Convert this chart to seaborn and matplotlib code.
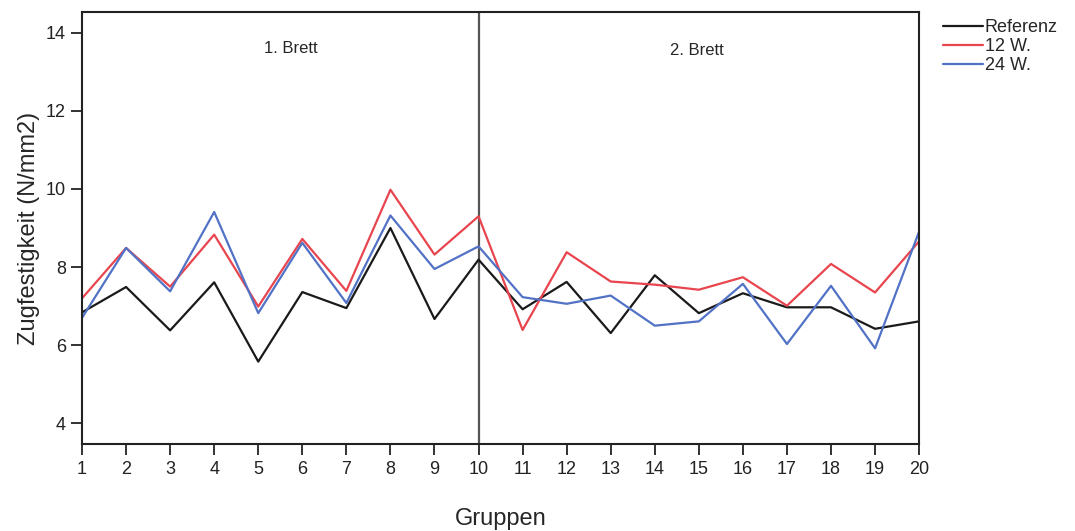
import pandas as pd
import numpy as np
import matplotlib
matplotlib.use("Agg")
import matplotlib.pyplot as plt
import seaborn as sns

# values
gruppen = list(range(1, 21))
referenz = [6.84, 7.49, 6.38, 7.61, 5.58, 7.36, 6.95, 9.00, 6.67, 8.19,
            6.92, 7.62, 6.31, 7.79, 6.82, 7.33, 6.97, 6.97, 6.42, 6.61]
w12 = [7.20, 8.49, 7.50, 8.83, 6.99, 8.72, 7.39, 9.98, 8.32, 9.30,
       6.39, 8.38, 7.63, 7.55, 7.42, 7.74, 7.01, 8.08, 7.35, 8.66]
w24 = [6.70, 8.49, 7.38, 9.41, 6.82, 8.62, 7.08, 9.32, 7.95, 8.53,
       7.23, 7.06, 7.27, 6.50, 6.61, 7.57, 6.03, 7.52, 5.92, 8.91]
series_names = ["Referenz", "12 W.", "24 W."]
PALETTE = {"Referenz": "#1a1a1a", "12 W.": "#e8454f", "24 W.": "#5272c6"}

data = pd.concat(
    [
        pd.DataFrame({"Gruppen": gruppen, "value": vals, "serie": name})
        for name, vals in zip(series_names, [referenz, w12, w24])
    ]
)

sns.set_style("white")
plt.rcParams["font.family"] = ["Liberation Sans", "DejaVu Sans"]

fig = plt.figure(figsize=(10.75, 5.31), dpi=100)
ax = fig.add_axes([0.0763, 0.1638, 0.855 - 0.0763, 0.9774 - 0.1638])

sns.lineplot(
    data=data,
    x="Gruppen",
    y="value",
    hue="serie",
    hue_order=series_names,
    palette=PALETTE,
    linewidth=1.6,
    ax=ax,
)

ax.axvline(10, color="#555555", linewidth=1.6, zorder=0)
ax.text(5.73, 13.6, "1. Brett", ha="center", va="center", fontsize=12)
ax.text(14.96, 13.55, "2. Brett", ha="center", va="center", fontsize=12)

ax.set_xlim(1, 20)
ax.set_ylim(3.47, 14.53)
ax.set_xticks(gruppen)
ax.set_yticks([4, 6, 8, 10, 12, 14])
ax.tick_params(axis="both", direction="out", length=8, width=1.3,
               labelsize=13, colors="#222222", left=True, bottom=True)
ax.tick_params(axis="x", pad=4)
for s in ax.spines.values():
    s.set_linewidth(1.5)
    s.set_color("#222222")

ax.set_xlabel("Gruppen", fontsize=17, labelpad=22)
ax.set_ylabel("Zugfestigkeit (N/mm2)", fontsize=17, labelpad=4)

handles, labels = ax.get_legend_handles_labels()
ax.legend(handles, labels, loc="upper left", bbox_to_anchor=(1.02, 1.0),
          frameon=False, fontsize=13, handlelength=2.2, handletextpad=0.1,
          labelspacing=0.1, borderaxespad=0)

plt.savefig("out.png", dpi=100)
